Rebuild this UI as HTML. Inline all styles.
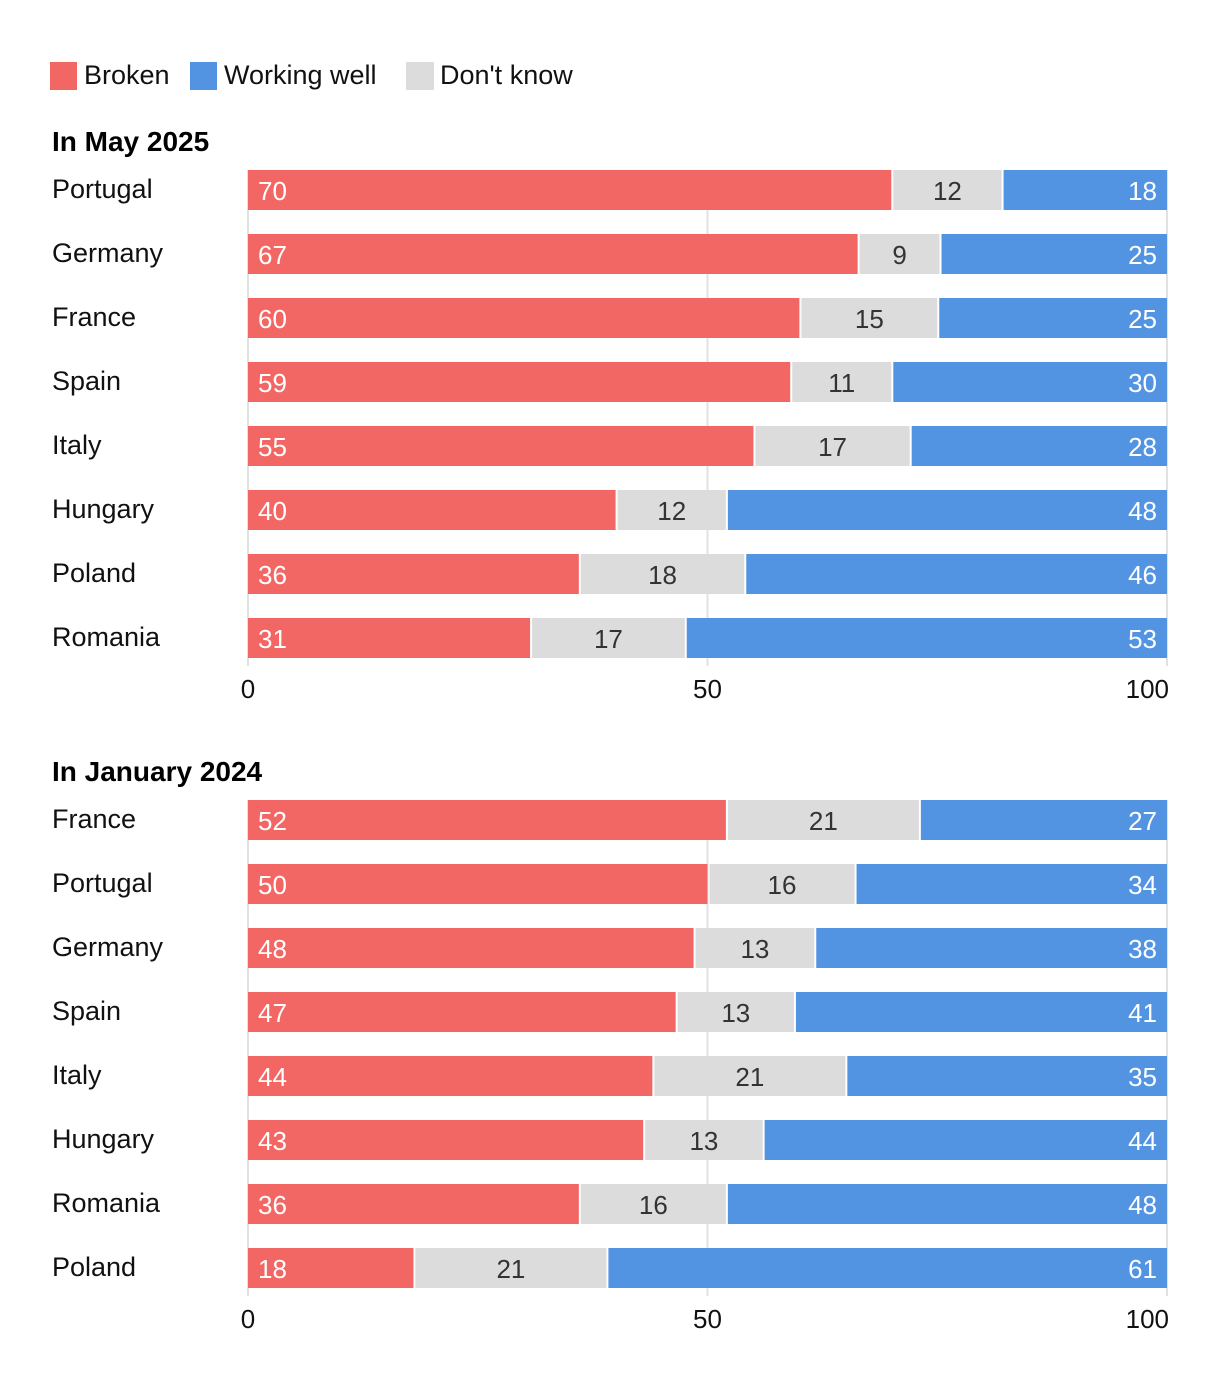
<!DOCTYPE html>
<html><head><meta charset="utf-8"><style>
body{margin:0;background:#fff;}
svg{display:block;font-family:"Liberation Sans",sans-serif;}
</style></head><body>
<svg id="c" width="1220" height="1382">
<g>
<rect x="50" y="62" width="27" height="28" fill="#f26764"/>
<text x="84" y="84" font-size="27" fill="#111">Broken</text>
<rect x="190" y="62" width="27" height="28" fill="#5294e2"/>
<text x="224" y="84" font-size="27" fill="#111">Working well</text>
<rect x="406" y="62" width="28" height="28" fill="#dcdcdc"/>
<text x="440" y="84" font-size="27" fill="#111">Don't know</text>
</g>
</svg>
<script>
const panelTitles=["In May 2025","In January 2024"];
const countries1=["Portugal","Germany","France","Spain","Italy","Hungary","Poland","Romania"];
const broken1=[70,67,60,59,55,40,36,31];
const dontKnow1=[12,9,15,11,17,12,18,17];
const working1=[18,25,25,30,28,48,46,53];
const countries2=["France","Portugal","Germany","Spain","Italy","Hungary","Romania","Poland"];
const broken2=[52,50,48,47,44,43,36,18];
const dontKnow2=[21,16,13,13,21,13,16,21];
const working2=[27,34,38,41,35,44,48,61];
const ticks=[0,50,100];

const svg=document.getElementById('c');
const NS='http://www.w3.org/2000/svg';
const x0=248,x1=1167;
const xs=v=>x0+(x1-x0)*v/100;
function mk(tag,attrs,parent){const e=document.createElementNS(NS,tag);for(const k in attrs)e.setAttribute(k,attrs[k]);(parent||svg).appendChild(e);return e;}
function panel(pi,top,countries,broken,dk,working){
  const g=mk('g',{});
  
  
  const t=mk('text',{x:52,y:top-19,'font-size':28,'font-weight':'bold',fill:'#000'},g);
  t.textContent=panelTitles[pi];
  
  
  const n=countries.length;
  const bottom=top+64*(n-1)+40;
  ticks.forEach(v=>{
    const l=mk('line',{x1:xs(v),x2:xs(v),y1:top,y2:bottom+8,stroke:'#e2e2e2','stroke-width':2},g);
    
    
    const tl=mk('text',{x:xs(v),y:bottom+40,'font-size':26,fill:'#111','text-anchor':v===100?'end':'middle'},g);
    if(v===100)tl.setAttribute('x',xs(v)+2);
    tl.textContent=v;
    
    
  });
  countries.forEach((c,i)=>{
    const y=top+64*i;
    const lab=mk('text',{x:52,y:y+28,'font-size':27,fill:'#111'},g);
    lab.textContent=c;
    
    
    const tot=(broken[i]+dk[i]+working[i])/100;
    const b=broken[i]/tot,d=dk[i]/tot,w=working[i]/tot;
    const r1=mk('rect',{x:xs(0),y:y,width:xs(b)-xs(0),height:40,fill:'#f26764'},g);
    
    
    const r2=mk('rect',{x:xs(b)+2,y:y,width:xs(b+d)-xs(b)-2,height:40,fill:'#dcdcdc'},g);
    
    
    const r3=mk('rect',{x:xs(b+d)+2,y:y,width:xs(b+d+w)-xs(b+d)-2,height:40,fill:'#5294e2'},g);
    
    
    const t1=mk('text',{x:xs(0)+10,y:y+30,'font-size':26,fill:'#fff'},g);
    t1.textContent=broken[i];
    
    
    const t2=mk('text',{x:(xs(b)+xs(b+d))/2+1,y:y+30,'font-size':26,fill:'#333','text-anchor':'middle'},g);
    t2.textContent=dk[i];
    
    
    const t3=mk('text',{x:xs(b+d+w)-10,y:y+30,'font-size':26,fill:'#fff','text-anchor':'end'},g);
    t3.textContent=working[i];
    
    
  });
}
panel(0,170,countries1,broken1,dontKnow1,working1);
panel(1,800,countries2,broken2,dontKnow2,working2);
</script>
</body></html>
